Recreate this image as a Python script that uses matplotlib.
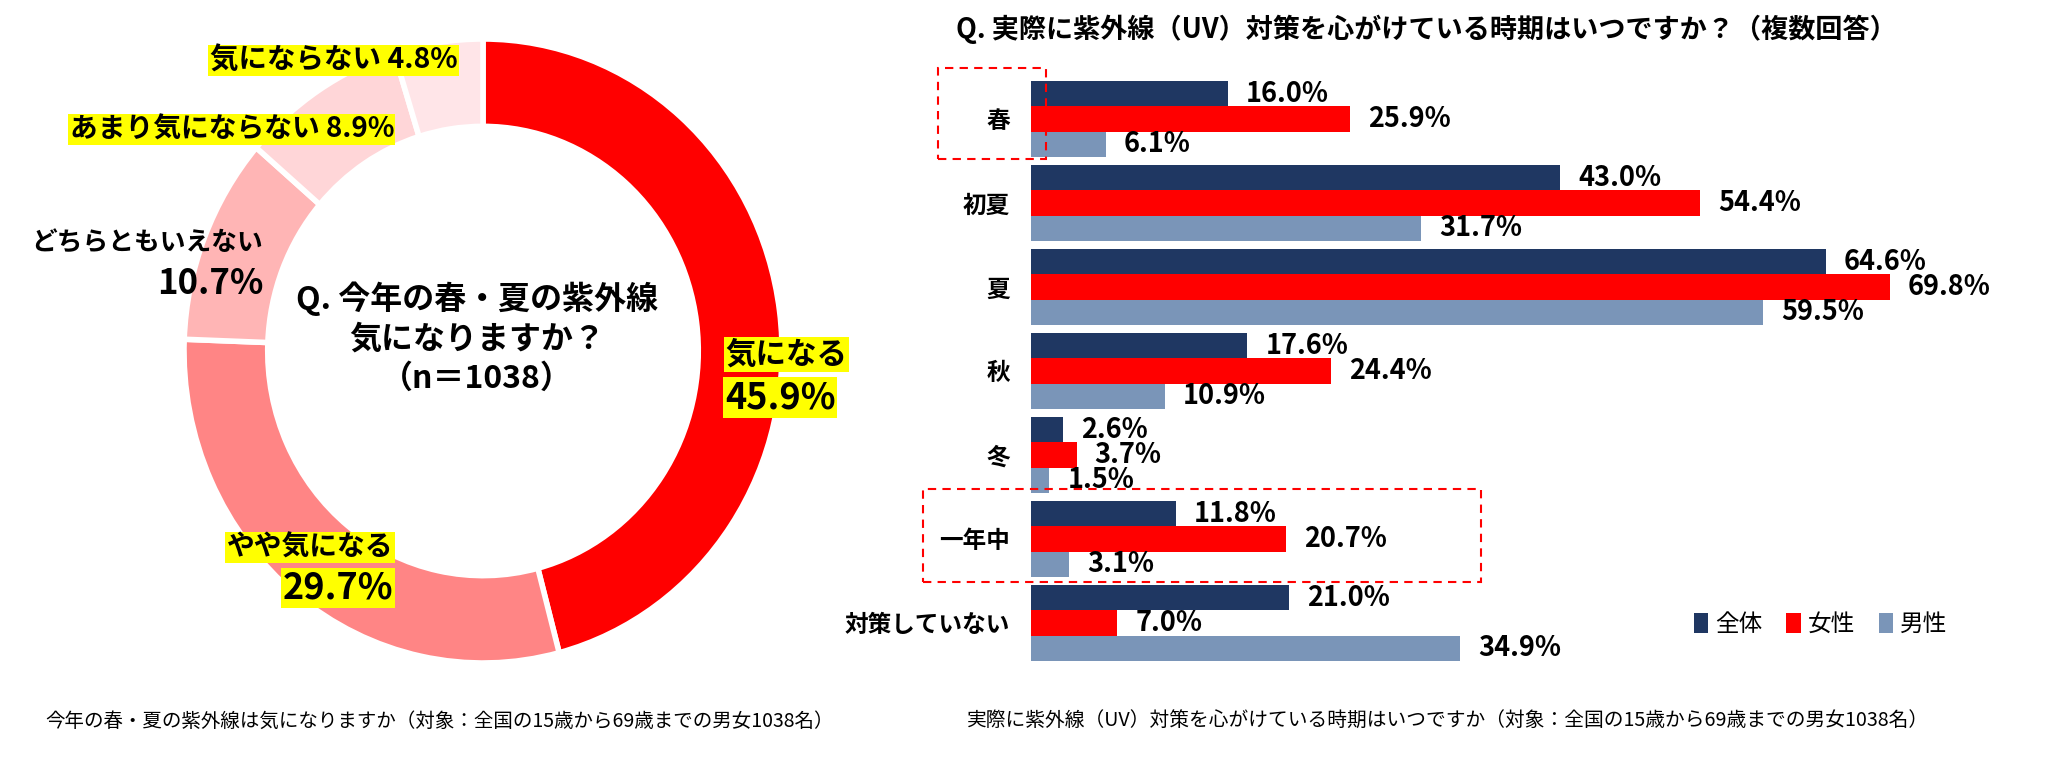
import numpy as np
import matplotlib
matplotlib.use("Agg")
import matplotlib.pyplot as plt
from matplotlib.patches import Rectangle

plt.rcParams['font.family'] = ['Noto Sans CJK JP', 'DejaVu Sans']

# donut data
donut_labels = ["気になる", "やや気になる", "どちらともいえない", "あまり気にならない", "気にならない"]
donut_values = [45.9, 29.7, 10.7, 8.9, 4.8]
donut_colors = ["#FF0000", "#FF8585", "#FFB5B5", "#FFD6D8", "#FFE5E8"]

# bar data
periods = ["春", "初夏", "夏", "秋", "冬", "一年中", "対策していない"]
total = [16.0, 43.0, 64.6, 17.6, 2.6, 11.8, 21.0]
female = [25.9, 54.4, 69.8, 24.4, 3.7, 20.7, 7.0]
male = [6.1, 31.7, 59.5, 10.9, 1.5, 3.1, 34.9]
series_names = ["全体", "女性", "男性"]
series_colors = ["#1F3762", "#FF0000", "#7A95B8"]

W, H = 2048, 768
fig = plt.figure(figsize=(W / 100, H / 100), dpi=100)

# ---- donut (slightly taller than wide, like the source) ----
cx, cy, rx, ry = 483, 351, 299, 312
ax1 = fig.add_axes([(cx - rx) / W, (H - cy - ry) / H, 2 * rx / W, 2 * ry / H])
ax1.pie(donut_values, colors=donut_colors, startangle=90, counterclock=False,
        radius=1.0, wedgeprops=dict(width=0.28, edgecolor="white", linewidth=4))
ax1.set_xlim(-1, 1)
ax1.set_ylim(-1, 1)
ax1.set_aspect("auto")
ax1.axis("off")

yb = dict(boxstyle="square,pad=0.05", fc="#FFFF00", ec="none")
ax1.text(-0.02, 0.04, "Q. 今年の春・夏の紫外線\n気になりますか？\n（n＝1038）", ha="center", va="center",
         fontsize=23, fontweight="bold", linespacing=1.3)
ax1.text(0.81, -0.01, donut_labels[0], ha="left", va="center", fontsize=22, fontweight="bold", bbox=yb)
ax1.text(0.81, -0.15, f"{donut_values[0]}%", ha="left", va="center", fontsize=26, fontweight="bold", bbox=yb)
ax1.text(-0.30, -0.63, donut_labels[1], ha="right", va="center", fontsize=20, fontweight="bold", bbox=yb)
ax1.text(-0.30, -0.76, f"{donut_values[1]}%", ha="right", va="center", fontsize=26, fontweight="bold", bbox=yb)
ax1.text(-0.735, 0.345, donut_labels[2], ha="right", va="center", fontsize=18.5, fontweight="bold")
ax1.text(-0.735, 0.215, f"{donut_values[2]}%", ha="right", va="center", fontsize=25, fontweight="bold")
ax1.text(-0.84, 0.71, f"{donut_labels[3]} {donut_values[3]}%", ha="center", va="center",
         fontsize=20, fontweight="bold", bbox=yb)
ax1.text(-0.50, 0.93, f"{donut_labels[4]} {donut_values[4]}%", ha="center", va="center",
         fontsize=20.5, fontweight="bold", bbox=yb)

# ---- bars ----
x0, ppu = 1031, 12.3
top, step = 77, 84
ax2 = fig.add_axes([x0 / W, (H - top - 7 * step) / H, 80 * ppu / W, 7 * step / H])
y = np.arange(len(periods))
h = 0.3
for i, (vals, name, col) in enumerate(zip([total, female, male], series_names, series_colors)):
    bars = ax2.barh(y + (i - 1) * h, vals, height=h, color=col, label=name)
    ax2.bar_label(bars, labels=[f"{v:.1f}%" for v in vals], padding=13,
                  fontsize=19.5, fontweight="bold")
ax2.set_xlim(0, 80)
ax2.set_ylim(6.5, -0.5)
ax2.set_yticks(y)
ax2.set_yticklabels(periods, fontsize=17, fontweight="bold")
ax2.tick_params(axis="y", length=0, pad=15)
ax2.set_xticks([])
for s in ax2.spines.values():
    s.set_visible(False)

fig.legend(*ax2.get_legend_handles_labels(), loc="center", bbox_to_anchor=(0.889, 0.187),
           ncol=3, frameon=False, fontsize=17, handlelength=0.6, handleheight=0.9,
           handletextpad=0.3, columnspacing=1.0)

# dashed highlight boxes (figure pixels)
for (bx0, by0, bx1, by1) in [(938, 68, 1046, 159), (923, 489, 1481, 582)]:
    fig.patches.append(Rectangle((bx0 / W, 1 - by1 / H), (bx1 - bx0) / W, (by1 - by0) / H,
                                 transform=fig.transFigure, fill=False, ec="#FF0000",
                                 lw=1.5, ls=(0, (4, 3))))

fig.text(0.6965, 0.962, "Q. 実際に紫外線（UV）対策を心がけている時期はいつですか？（複数回答）",
         ha="center", va="center", fontsize=19.5, fontweight="bold")
fig.text(0.022, 0.061, "今年の春・夏の紫外線は気になりますか（対象：全国の15歳から69歳までの男女1038名）",
         ha="left", va="center", fontsize=14)
fig.text(0.472, 0.061, "実際に紫外線（UV）対策を心がけている時期はいつですか（対象：全国の15歳から69歳までの男女1038名）",
         ha="left", va="center", fontsize=14.2)

fig.savefig("out.png", dpi=100)
